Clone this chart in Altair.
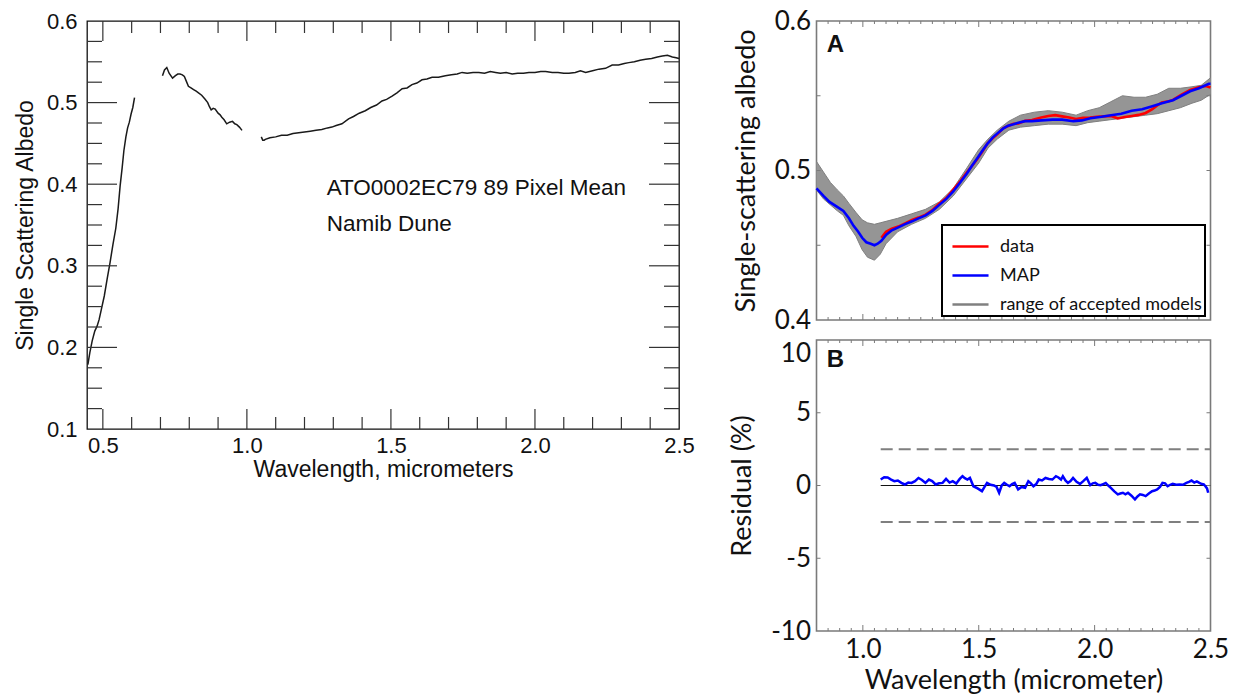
import altair as alt
import pandas as pd

FONT_L = "Liberation Sans"
FONT_R = "Lato"

# ---------------- Left panel: spectrum (three segments with gaps) ----------------
SEG1_WL = [0.448, 0.455, 0.463, 0.472, 0.480, 0.487, 0.495, 0.505, 0.515, 0.525, 0.535,
           0.545, 0.553, 0.560, 0.567, 0.573, 0.580, 0.586, 0.592, 0.598, 0.604, 0.610]
SEG1_ALB = [0.179, 0.194, 0.208, 0.220, 0.226, 0.234, 0.247, 0.263, 0.284, 0.304, 0.326,
            0.346, 0.370, 0.398, 0.420, 0.441, 0.458, 0.469, 0.476, 0.486, 0.494, 0.506]

SEG2_WL = [0.707, 0.714, 0.722, 0.730, 0.742, 0.752, 0.760, 0.768, 0.776, 0.783, 0.790,
           0.797, 0.806, 0.815, 0.824, 0.832, 0.843, 0.855, 0.864, 0.870, 0.876, 0.883,
           0.890, 0.900, 0.907, 0.913, 0.921, 0.930, 0.940, 0.950, 0.958, 0.965, 0.974, 0.983]
SEG2_ALB = [0.533, 0.540, 0.543, 0.536, 0.530, 0.533, 0.535, 0.535, 0.534, 0.532, 0.526,
            0.520, 0.518, 0.516, 0.514, 0.512, 0.509, 0.504, 0.500, 0.495, 0.491, 0.493,
            0.492, 0.487, 0.485, 0.482, 0.479, 0.474, 0.476, 0.477, 0.474, 0.473, 0.470, 0.466]

SEG3_WL = [1.050, 1.055, 1.060, 1.064, 1.080, 1.100, 1.120, 1.140, 1.160, 1.180, 1.200,
           1.220, 1.240, 1.260, 1.280, 1.295, 1.310, 1.330, 1.353, 1.370, 1.390, 1.411,
           1.430, 1.450, 1.469, 1.485, 1.504, 1.521, 1.539, 1.556, 1.573, 1.590, 1.608,
           1.625, 1.643, 1.665, 1.689, 1.710, 1.730, 1.747, 1.765, 1.785, 1.805, 1.825,
           1.845, 1.863, 1.880, 1.900, 1.921, 1.940, 1.960, 1.979, 2.000, 2.020, 2.037,
           2.060, 2.080, 2.100, 2.118, 2.140, 2.158, 2.176, 2.200, 2.222, 2.245, 2.268,
           2.290, 2.310, 2.326, 2.345, 2.365, 2.384, 2.405, 2.425, 2.442, 2.460, 2.477,
           2.490, 2.500]
SEG3_ALB = [0.458, 0.454, 0.454, 0.455, 0.457, 0.458, 0.460, 0.460, 0.462, 0.463, 0.464,
            0.465, 0.466, 0.467, 0.469, 0.470, 0.472, 0.474, 0.480, 0.483, 0.487, 0.490,
            0.494, 0.497, 0.502, 0.504, 0.508, 0.512, 0.517, 0.518, 0.522, 0.524, 0.528,
            0.529, 0.531, 0.531, 0.533, 0.534, 0.535, 0.537, 0.536, 0.537, 0.537, 0.536,
            0.538, 0.537, 0.536, 0.537, 0.535, 0.536, 0.536, 0.537, 0.537, 0.538, 0.538,
            0.537, 0.537, 0.536, 0.536, 0.537, 0.539, 0.537, 0.539, 0.541, 0.542, 0.546,
            0.546, 0.548, 0.549, 0.550, 0.552, 0.553, 0.554, 0.556, 0.557, 0.558, 0.556,
            0.555, 0.554]

ANNOT_TEXT = ["ATO0002EC79 89 Pixel Mean", "Namib Dune"]
ANNOT_WL = [1.277, 1.277]
ANNOT_ALB = [0.395, 0.351]

L_X_LABELS = [0.5, 1.0, 1.5, 2.0, 2.5]
L_X_MINOR = [0.6, 0.7, 0.8, 0.9, 1.1, 1.2, 1.3, 1.4, 1.6, 1.7, 1.8, 1.9, 2.1, 2.2, 2.3, 2.4]
L_X_MAJOR = [0.5, 1.0, 1.5, 2.0]
L_Y_LABELS = [0.1, 0.2, 0.3, 0.4, 0.5, 0.6]
L_Y_MAJOR = [0.2, 0.3, 0.4, 0.5]
L_Y_MINOR = [0.125, 0.15, 0.175, 0.225, 0.25, 0.275, 0.325, 0.35, 0.375,
             0.425, 0.45, 0.475, 0.525, 0.55, 0.575]

# ---------------- Right panel A: model fit ----------------
MAP_WL = [0.80, 0.83, 0.856, 0.886, 0.916, 0.94, 0.96, 0.98, 0.997, 1.015, 1.034, 1.05,
          1.064, 1.08, 1.101, 1.125, 1.153, 1.18, 1.212, 1.24, 1.271, 1.30, 1.33, 1.36,
          1.39, 1.42, 1.449, 1.47, 1.493, 1.515, 1.538, 1.56, 1.582, 1.605, 1.627, 1.65,
          1.671, 1.70, 1.73, 1.77, 1.819, 1.86, 1.908, 1.945, 1.982, 2.03, 2.071, 2.115,
          2.16, 2.205, 2.249, 2.29, 2.338, 2.375, 2.412, 2.45, 2.493, 2.50]
MAP_ALB = [0.488, 0.483, 0.479, 0.476, 0.473, 0.468, 0.463, 0.459, 0.455, 0.452, 0.451,
           0.450, 0.451, 0.453, 0.457, 0.460, 0.462, 0.464, 0.466, 0.468, 0.470, 0.473,
           0.477, 0.481, 0.486, 0.492, 0.498, 0.503, 0.508, 0.513, 0.518, 0.522, 0.525,
           0.528, 0.530, 0.531, 0.532, 0.533, 0.533, 0.5335, 0.534, 0.534, 0.533, 0.5335,
           0.535, 0.536, 0.537, 0.538, 0.540, 0.541, 0.543, 0.545, 0.547, 0.550, 0.553,
           0.555, 0.558, 0.558]

DATA_WL = [1.08, 1.10, 1.125, 1.153, 1.18, 1.212, 1.24, 1.271, 1.30, 1.33, 1.36, 1.39,
           1.42, 1.449, 1.47, 1.493, 1.515, 1.538, 1.56, 1.582, 1.605, 1.627, 1.65, 1.671,
           1.70, 1.73, 1.77, 1.80, 1.83, 1.86, 1.89, 1.92, 1.95, 1.98, 2.01, 2.04, 2.071,
           2.10, 2.13, 2.16, 2.19, 2.22, 2.249, 2.27, 2.29, 2.32, 2.338, 2.375, 2.412,
           2.45, 2.48, 2.50]
DATA_ALB = [0.455, 0.459, 0.461, 0.4625, 0.4645, 0.467, 0.4685, 0.4705, 0.4735, 0.478,
            0.4815, 0.4872, 0.4928, 0.4988, 0.5028, 0.5075, 0.5125, 0.5182, 0.5215,
            0.5245, 0.5282, 0.5298, 0.5312, 0.5315, 0.5332, 0.5338, 0.5355, 0.5365, 0.537,
            0.5362, 0.5355, 0.5345, 0.5352, 0.5355, 0.536, 0.5362, 0.5365, 0.5348, 0.5358,
            0.5365, 0.5372, 0.5385, 0.541, 0.5435, 0.5455, 0.5463, 0.5472, 0.5508, 0.5538,
            0.5557, 0.5565, 0.5555]

ENV_WL = [0.80, 0.83, 0.86, 0.89, 0.916, 0.94, 0.97, 0.997, 1.02, 1.05, 1.075, 1.10, 1.15,
          1.21, 1.27, 1.33, 1.39, 1.45, 1.50, 1.54, 1.58, 1.63, 1.68, 1.74, 1.80, 1.86,
          1.92, 1.97, 2.02, 2.07, 2.12, 2.17, 2.22, 2.27, 2.32, 2.37, 2.42, 2.46, 2.50]
ENV_HI = [0.506, 0.499, 0.492, 0.487, 0.483, 0.478, 0.472, 0.467, 0.465, 0.464, 0.465,
          0.466, 0.468, 0.471, 0.474, 0.479, 0.488, 0.502, 0.514, 0.521, 0.527, 0.533,
          0.537, 0.539, 0.540, 0.539, 0.537, 0.540, 0.542, 0.546, 0.550, 0.549, 0.549,
          0.551, 0.555, 0.555, 0.556, 0.557, 0.562]
ENV_LO = [0.487, 0.481, 0.477, 0.473, 0.470, 0.463, 0.456, 0.447, 0.442, 0.440, 0.444,
          0.451, 0.459, 0.464, 0.468, 0.474, 0.483, 0.495, 0.505, 0.515, 0.521, 0.527,
          0.529, 0.530, 0.531, 0.531, 0.530, 0.532, 0.533, 0.534, 0.535, 0.536, 0.537,
          0.538, 0.540, 0.542, 0.545, 0.547, 0.551]

SERIES = ["data", "MAP", "range of accepted models"]
SERIES_COLORS = ["#ff0000", "#0000ff", "#808080"]

R_X_LABELS = [1.0, 1.5, 2.0, 2.5]
R_X_MAJOR = [1.0, 1.5, 2.0]
R_X_MINOR = [0.85, 0.9, 0.95, 1.05, 1.1, 1.15, 1.2, 1.25, 1.3, 1.35, 1.4, 1.45, 1.55, 1.6,
             1.65, 1.7, 1.75, 1.8, 1.85, 1.9, 1.95, 2.05, 2.1, 2.15, 2.2, 2.25, 2.3, 2.35,
             2.4, 2.45]
A_Y_LABELS = [0.4, 0.5, 0.6]
A_Y_TICKS = [0.45, 0.5, 0.55]

# ---------------- Right panel B: residuals ----------------
RES_WL = [1.077, 1.092, 1.107, 1.122, 1.136, 1.151, 1.166, 1.181, 1.196, 1.210, 1.225,
          1.240, 1.255, 1.270, 1.285, 1.299, 1.314, 1.329, 1.344, 1.359, 1.374, 1.388,
          1.403, 1.418, 1.430, 1.440, 1.451, 1.462, 1.477, 1.495, 1.514, 1.525, 1.536,
          1.551, 1.566, 1.577, 1.588, 1.599, 1.610, 1.622, 1.633, 1.644, 1.655, 1.670,
          1.685, 1.700, 1.714, 1.725, 1.736, 1.748, 1.759, 1.773, 1.788, 1.803, 1.818,
          1.833, 1.844, 1.855, 1.863, 1.874, 1.885, 1.896, 1.907, 1.922, 1.937, 1.951,
          1.966, 1.981, 1.992, 2.003, 2.015, 2.026, 2.037, 2.048, 2.059, 2.070, 2.085,
          2.100, 2.111, 2.122, 2.133, 2.144, 2.159, 2.174, 2.185, 2.196, 2.208, 2.220,
          2.234, 2.248, 2.259, 2.270, 2.282, 2.293, 2.304, 2.315, 2.326, 2.337, 2.352,
          2.367, 2.381, 2.396, 2.407, 2.418, 2.430, 2.441, 2.452, 2.463, 2.471, 2.478,
          2.485, 2.490]
RES_PCT = [0.41, 0.57, 0.55, 0.41, 0.30, 0.34, 0.18, 0.07, 0.20, 0.18, 0.30, 0.52, 0.38,
           0.18, 0.41, 0.30, 0.07, 0.15, 0.18, 0.45, 0.20, 0.30, 0.14, 0.45, 0.64, 0.50,
           0.41, 0.52, -0.05, -0.20, -0.39, -0.10, 0.18, 0.05, 0.00, -0.10, -0.50, 0.00,
           0.18, 0.05, -0.05, 0.10, 0.18, -0.27, -0.10, -0.16, 0.30, 0.15, -0.05, 0.10,
           0.41, 0.35, 0.52, 0.45, 0.41, 0.64, 0.55, 0.41, 0.64, 0.35, 0.18, 0.30, 0.52,
           0.25, 0.11, 0.30, 0.52, 0.02, 0.15, 0.18, 0.05, 0.02, 0.10, 0.18, 0.00, -0.16,
           -0.40, -0.61, -0.55, -0.50, -0.60, -0.50, -0.70, -0.95, -0.75, -0.61, -0.65,
           -0.73, -0.55, -0.39, -0.35, -0.27, -0.10, 0.18, 0.15, -0.05, 0.05, 0.11, 0.05,
           0.07, 0.05, 0.18, 0.25, 0.34, 0.20, 0.28, 0.18, 0.10, 0.07, -0.05, -0.20, -0.50]
RES_BOUNDS = [2.5, -2.5]
RES_START = 1.077
RES_END = 2.5
B_Y_LABELS = [-10, -5, 0, 5, 10]
B_Y_TICKS = [-5, 0, 5]

PANEL_TAGS = ["A", "B"]

# ---------------- sizes ----------------
LW, LH = 592, 408
RW, AH, BH = 394, 299, 291
GAP_H = 137.5
LEG_X = LW + GAP_H + 125.5
LEG_Y = 204


def xticks(values, field, scale, H, length, color, width, axis=None):
    df = pd.DataFrame({field: values})
    base = alt.Chart(df).mark_rule(color=color, strokeWidth=width)
    bottom = base.encode(x=alt.X(f"{field}:Q", scale=scale, axis=axis),
                         y=alt.value(H), y2=alt.value(H - length))
    top = base.encode(x=alt.X(f"{field}:Q", scale=scale, axis=axis),
                      y=alt.value(0), y2=alt.value(length))
    return [bottom, top]


def yticks(values, field, scale, W, length, color, width, axis=None):
    df = pd.DataFrame({field: values})
    base = alt.Chart(df).mark_rule(color=color, strokeWidth=width)
    left = base.encode(y=alt.Y(f"{field}:Q", scale=scale, axis=axis),
                       x=alt.value(0), x2=alt.value(length))
    right = base.encode(y=alt.Y(f"{field}:Q", scale=scale, axis=axis),
                        x=alt.value(W), x2=alt.value(W - length))
    return [left, right]


# ---------------- build left panel ----------------
dfL = pd.concat([
    pd.DataFrame({"wl": SEG1_WL, "alb": SEG1_ALB, "seg": "1"}),
    pd.DataFrame({"wl": SEG2_WL, "alb": SEG2_ALB, "seg": "2"}),
    pd.DataFrame({"wl": SEG3_WL, "alb": SEG3_ALB, "seg": "3"}),
])
xL = alt.Scale(domain=[0.445, 2.5], nice=False, zero=False)
yL = alt.Scale(domain=[0.1, 0.6], nice=False, zero=False)
axLx = alt.Axis(values=L_X_LABELS, format=".1f", ticks=False, domain=False, grid=False,
                labelFont=FONT_L, labelFontSize=22, labelPadding=6, labelFlush=False,
                labelColor="#111", title="Wavelength, micrometers", titleFont=FONT_L,
                titleFontSize=23, titleFontWeight="normal", titlePadding=2,
                titleColor="#111")
axLy = alt.Axis(values=L_Y_LABELS, format=".1f", ticks=False, domain=False, grid=False,
                labelFont=FONT_L, labelFontSize=22, labelPadding=10, labelFlush=False,
                labelColor="#111", title="Single Scattering Albedo", titleFont=FONT_L,
                titleFontSize=23, titleFontWeight="normal", titlePadding=9,
                titleColor="#111")

left_line = alt.Chart(dfL).mark_line(color="#1a1a1a", strokeWidth=1.5).encode(
    x=alt.X("wl:Q", scale=xL, axis=axLx),
    y=alt.Y("alb:Q", scale=yL, axis=axLy),
    detail="seg:N",
)
left_text = alt.Chart(pd.DataFrame({"wl": ANNOT_WL, "alb": ANNOT_ALB, "t": ANNOT_TEXT})).mark_text(
    align="left", baseline="middle", font=FONT_L, fontSize=22.5, color="#111"
).encode(
    x=alt.X("wl:Q", scale=xL, axis=axLx),
    y=alt.Y("alb:Q", scale=yL, axis=axLy),
    text="t:N",
)
tcol = "#333333"
left_layers = [left_line, left_text]
left_layers += xticks(L_X_MAJOR, "wl", xL, LH, 20, tcol, 1.2, axLx)
left_layers += xticks(L_X_MINOR, "wl", xL, LH, 12, tcol, 1.2, axLx)
left_layers += yticks(L_Y_MAJOR, "alb", yL, LW, 30, tcol, 1.2, axLy)
left_layers += yticks(L_Y_MINOR, "alb", yL, LW, 15, tcol, 1.2, axLy)
left = alt.layer(*left_layers).properties(
    width=LW, height=LH, view=alt.ViewBackground(stroke="#111", strokeWidth=1.3)
)

# ---------------- build panel A ----------------
xR = alt.Scale(domain=[0.8, 2.5], nice=False, zero=False)
yA = alt.Scale(domain=[0.4, 0.6], nice=False, zero=False)
cscale = alt.Scale(domain=SERIES, range=SERIES_COLORS)
axAy = alt.Axis(values=A_Y_LABELS, format=".1f", ticks=False, domain=False, grid=False,
                labelFont=FONT_R, labelFontSize=26, labelPadding=6, labelFlush=False,
                labelColor="#111", title="Single-scattering albedo", titleFont=FONT_R,
                titleFontSize=27, titleFontWeight="normal", titlePadding=14,
                titleColor="#111")
leg = alt.Legend(orient="none", legendX=LEG_X, legendY=LEG_Y, title=None,
                 symbolType="stroke", symbolSize=1300, symbolStrokeWidth=2.6,
                 symbolOffset=7, labelFont=FONT_R, labelFontSize=18, labelColor="#111",
                 labelOffset=10, labelLimit=400, rowPadding=-9, padding=2,
                 strokeColor="#000", fillColor="white")

dfEnv = pd.DataFrame({"wl": ENV_WL, "lo": ENV_LO, "hi": ENV_HI})
dfEnvLines = pd.concat([
    pd.DataFrame({"wl": ENV_WL, "alb": ENV_HI, "member": "upper", "series": SERIES[2]}),
    pd.DataFrame({"wl": ENV_WL, "alb": ENV_LO, "member": "lower", "series": SERIES[2]}),
])
dfData = pd.DataFrame({"wl": DATA_WL, "alb": DATA_ALB, "series": SERIES[0]})
dfMap = pd.DataFrame({"wl": MAP_WL, "alb": MAP_ALB, "series": SERIES[1]})

band = alt.Chart(dfEnv).mark_area(color="#959595", opacity=1).encode(
    x=alt.X("wl:Q", scale=xR, axis=None),
    y=alt.Y("lo:Q", scale=yA, axis=axAy),
    y2="hi:Q",
)
env_lines = alt.Chart(dfEnvLines).mark_line(strokeWidth=1).encode(
    x=alt.X("wl:Q", scale=xR, axis=None),
    y=alt.Y("alb:Q", scale=yA, axis=axAy),
    color=alt.Color("series:N", scale=cscale, legend=leg),
    detail="member:N",
)
data_line = alt.Chart(dfData).mark_line(strokeWidth=2.6).encode(
    x=alt.X("wl:Q", scale=xR, axis=None),
    y=alt.Y("alb:Q", scale=yA, axis=axAy),
    color=alt.Color("series:N", scale=cscale, legend=leg),
)
map_line = alt.Chart(dfMap).mark_line(strokeWidth=2.6).encode(
    x=alt.X("wl:Q", scale=xR, axis=None),
    y=alt.Y("alb:Q", scale=yA, axis=axAy),
    color=alt.Color("series:N", scale=cscale, legend=leg),
)
tagA = alt.Chart(pd.DataFrame({"wl": [0.844], "alb": [0.5838], "t": [PANEL_TAGS[0]]})).mark_text(
    align="left", baseline="middle", font=FONT_L, fontSize=24, fontWeight="bold", color="#111"
).encode(x=alt.X("wl:Q", scale=xR, axis=None), y=alt.Y("alb:Q", scale=yA, axis=axAy), text="t:N")

rcol = "#7a7a7a"
A_layers = [band, env_lines, data_line, map_line, tagA]
A_layers += xticks(R_X_MAJOR, "wl", xR, AH, 6, rcol, 1)
A_layers += xticks(R_X_MINOR, "wl", xR, AH, 3, rcol, 1)
A_layers += yticks(A_Y_TICKS, "alb", yA, RW, 4, rcol, 1, axAy)
panelA = alt.layer(*A_layers).properties(
    width=RW, height=AH, view=alt.ViewBackground(stroke=rcol, strokeWidth=1.6)
)

# ---------------- build panel B ----------------
yB = alt.Scale(domain=[-10, 10], nice=False, zero=False)
axBx = alt.Axis(values=R_X_LABELS, format=".1f", ticks=False, domain=False, grid=False,
                labelFont=FONT_R, labelFontSize=26, labelPadding=5, labelFlush=False,
                labelColor="#111", title="Wavelength (micrometer)", titleFont=FONT_R,
                titleFontSize=27, titleFontWeight="normal", titlePadding=5,
                titleColor="#111")
axBy = alt.Axis(values=B_Y_LABELS, ticks=False, domain=False, grid=False,
                labelExpr="datum.value + ''",
                labelBaseline=alt.ConditionalAxisLabelBaseline(
                    condition={"test": "datum.value == 10", "value": "top"}, value="middle"),
                labelFont=FONT_R, labelFontSize=26, labelPadding=6, labelFlush=False,
                labelColor="#111", title="Residual (%)", titleFont=FONT_R,
                titleFontSize=27, titleFontWeight="normal", titlePadding=14,
                titleColor="#111")
dfBounds = pd.DataFrame({"wl": [RES_START] * 2, "wl2": [RES_END] * 2, "res": RES_BOUNDS})
dfZero = pd.DataFrame({"wl": [RES_START], "wl2": [RES_END], "res": [0]})
dfRes = pd.DataFrame({"wl": RES_WL, "res": RES_PCT})

bounds = alt.Chart(dfBounds).mark_rule(color="#7f7f7f", strokeWidth=2, strokeDash=[12, 6]).encode(
    x=alt.X("wl:Q", scale=xR, axis=axBx), x2="wl2:Q",
    y=alt.Y("res:Q", scale=yB, axis=axBy),
)
zero = alt.Chart(dfZero).mark_rule(color="#111", strokeWidth=1.2).encode(
    x=alt.X("wl:Q", scale=xR, axis=axBx), x2="wl2:Q",
    y=alt.Y("res:Q", scale=yB, axis=axBy),
)
res_line = alt.Chart(dfRes).mark_line(color="#0000ff", strokeWidth=2.5).encode(
    x=alt.X("wl:Q", scale=xR, axis=axBx),
    y=alt.Y("res:Q", scale=yB, axis=axBy),
)
tagB = alt.Chart(pd.DataFrame({"wl": [0.844], "res": [8.65], "t": [PANEL_TAGS[1]]})).mark_text(
    align="left", baseline="middle", font=FONT_L, fontSize=24, fontWeight="bold", color="#111"
).encode(x=alt.X("wl:Q", scale=xR, axis=axBx), y=alt.Y("res:Q", scale=yB, axis=axBy), text="t:N")

B_layers = [bounds, zero, res_line, tagB]
B_layers += xticks(R_X_MAJOR, "wl", xR, BH, 6, rcol, 1, axBx)
B_layers += xticks(R_X_MINOR, "wl", xR, BH, 3, rcol, 1, axBx)
B_layers += yticks(B_Y_TICKS, "res", yB, RW, 4, rcol, 1, axBy)
panelB = alt.layer(*B_layers).properties(
    width=RW, height=BH, view=alt.ViewBackground(stroke=rcol, strokeWidth=1.6)
)

right = alt.vconcat(panelA, panelB, spacing=20, bounds="flush")
chart = alt.hconcat(left, right, spacing=GAP_H, bounds="flush").properties(
    padding={"left": 13, "top": 7, "right": 5, "bottom": 0},
    background="white",
).configure_legend(strokeWidth=2)

chart.save("out.html", embed_options={"renderer": "svg", "actions": False})
